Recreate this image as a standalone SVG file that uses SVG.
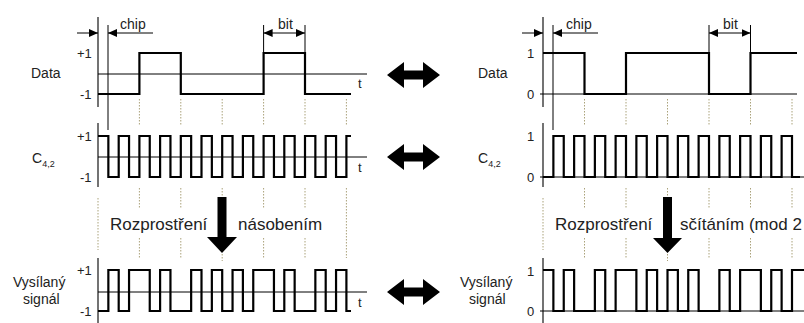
<svg xmlns="http://www.w3.org/2000/svg" width="804" height="323" viewBox="0 0 804 323">
<style>
text{font-family:"Liberation Sans",Arial,sans-serif;fill:#222}
.lab{font-size:14px}
.num{font-size:13px}
.big{font-size:17px}
.sub{font-size:9px}
.wave{fill:none;stroke:#000;stroke-width:2.2;stroke-linejoin:miter}
.thin{fill:none;stroke:#000;stroke-width:1}
.axis{fill:none;stroke:#444;stroke-width:1.5}
.dot{fill:none;stroke:#aaa27a;stroke-width:1;stroke-dasharray:1.5 1.5}
.bold{fill:#000}
</style>
<defs>
<marker id="ah" markerUnits="userSpaceOnUse" markerWidth="9" markerHeight="8" refX="9" refY="4" orient="auto-start-reverse">
<path d="M0,0 L9,4 L0,8 Z" fill="#000"/>
</marker>
</defs>
<rect width="804" height="323" fill="#fff"/>

<g id="grid">
<path class="dot" d="M139.4,99V126M180.8,99V126M222.2,99V126M263.6,99V126M305,99V126M346.4,99V126
M584.5,99V126M626,99V126M667.5,99V126M709,99V126M750.5,99V126M792,99V126
M139.4,188V208M180.8,188V208M222.2,188V197M263.6,188V208M305,188V208M346.4,188V258
M584.5,188V208M626,188V208M667.5,188V197M709,188V208M750.5,188V208M792,188V208
M139.4,238V258M180.8,238V258M222.2,254V261M263.6,238V258M305,238V258
M584.5,238V259M626,238V259M667.5,254V261M709,238V259M750.5,238V259M792,238V259
M98,198V250M543,198V250"/>
</g>

<g id="left-data">
<text class="lab" x="31" y="78">Data</text>
<text class="num" x="77" y="58">+1</text>
<text class="num" x="80" y="99">-1</text>
<text class="num" x="358" y="88">t</text>
<line class="axis" x1="98" y1="17" x2="98" y2="107"/>
<line class="thin" x1="98" y1="74" x2="367" y2="74"/>
<path class="wave" d="M98,94H139.4V53H180.8V94H263.6V53H305V94H351"/>
</g>

<g id="left-chip-marker">
<line class="thin" x1="108" y1="25" x2="108" y2="130"/>
<line class="thin" x1="77" y1="33" x2="98" y2="33" marker-end="url(#ah)"/>
<line class="thin" x1="153" y1="33" x2="108" y2="33" marker-end="url(#ah)"/>
<text class="lab" x="120" y="29">chip</text>
</g>

<g id="left-bit-marker">
<line class="thin" x1="263.6" y1="25" x2="263.6" y2="53"/>
<line class="thin" x1="305" y1="25" x2="305" y2="53"/>
<line class="thin" x1="263.6" y1="33" x2="305" y2="33" marker-start="url(#ah)" marker-end="url(#ah)"/>
<text class="lab" x="278" y="29">bit</text>
</g>

<g id="left-code">
<text class="lab" x="32" y="163">C<tspan class="sub" dy="4">4,2</tspan></text>
<text class="num" x="77" y="141">+1</text>
<text class="num" x="80" y="182">-1</text>
<text class="num" x="358" y="172">t</text>
<line class="axis" x1="98" y1="123" x2="98" y2="187"/>
<line class="thin" x1="98" y1="157" x2="367" y2="157"/>
<path class="wave" d="M98,136H108.35V177H118.7V136H129.05V177H139.4V136H149.75V177H160.1V136H170.45V177H180.8V136H191.15V177H201.5V136H211.85V177H222.2V136H232.55V177H242.9V136H253.25V177H263.6V136H273.95V177H284.3V136H294.65V177H305V136H315.35V177H325.7V136H336.05V177H346.4V136H351"/>
</g>

<g id="left-spread-label">
<text class="big" x="110" y="230">Rozprostření</text>
<text class="big" x="238" y="230">násobením</text>
</g>

<g id="left-signal">
<text class="lab" x="13" y="287">Vysílaný</text>
<text class="lab" x="23" y="304">signál</text>
<text class="num" x="77" y="275">+1</text>
<text class="num" x="80" y="316">-1</text>
<text class="num" x="358" y="307">t</text>
<line class="axis" x1="98" y1="258" x2="98" y2="323"/>
<line class="thin" x1="98" y1="292" x2="367" y2="292"/>
<path class="wave" d="M98,311H108.35V270H118.7V311H129.05V270H149.75V311H160.1V270H170.45V311H191.15V270H201.5V311H211.85V270H222.2V311H232.55V270H242.9V311H253.25V270H273.95V311H284.3V270H294.65V311H315.35V270H325.7V311H336.05V270H346.4V311H351"/>
</g>

<g id="right-data">
<text class="lab" x="478" y="78">Data</text>
<text class="num" x="527" y="58">1</text>
<text class="num" x="527" y="99">0</text>
<line class="axis" x1="543" y1="17" x2="543" y2="107"/>
<line class="thin" x1="540" y1="94" x2="797" y2="94"/>
<path class="wave" d="M543,53H584.5V94H626V53H709V94H750.5V53H797"/>
</g>

<g id="right-chip-marker">
<line class="thin" x1="553" y1="25" x2="553" y2="130"/>
<line class="thin" x1="522" y1="33" x2="543" y2="33" marker-end="url(#ah)"/>
<line class="thin" x1="598" y1="33" x2="553" y2="33" marker-end="url(#ah)"/>
<text class="lab" x="566" y="29">chip</text>
</g>

<g id="right-bit-marker">
<line class="thin" x1="709" y1="25" x2="709" y2="53"/>
<line class="thin" x1="750.5" y1="25" x2="750.5" y2="53"/>
<line class="thin" x1="709" y1="33" x2="750.5" y2="33" marker-start="url(#ah)" marker-end="url(#ah)"/>
<text class="lab" x="723" y="29">bit</text>
</g>

<g id="right-code">
<text class="lab" x="478" y="163">C<tspan class="sub" dy="4">4,2</tspan></text>
<text class="num" x="527" y="141">1</text>
<text class="num" x="527" y="182">0</text>
<line class="axis" x1="543" y1="123" x2="543" y2="187"/>
<line class="thin" x1="540" y1="177" x2="804" y2="177"/>
<path class="wave" d="M543,177H553.375V136H563.75V177H574.125V136H584.5V177H594.875V136H605.25V177H615.625V136H626V177H636.375V136H646.75V177H657.125V136H667.5V177H677.875V136H688.25V177H698.625V136H709V177H719.375V136H729.75V177H740.125V136H750.5V177H760.875V136H771.25V177H781.625V136H792V177H800"/>
</g>

<g id="right-spread-label">
<text class="big" x="555" y="230">Rozprostření</text>
<text class="big" x="680" y="230">sčítáním (mod 2</text>
</g>

<g id="right-signal">
<text class="lab" x="460" y="287">Vysílaný</text>
<text class="lab" x="469" y="304">signál</text>
<text class="num" x="527" y="276">1</text>
<text class="num" x="527" y="316">0</text>
<line class="axis" x1="543" y1="258" x2="543" y2="323"/>
<line class="thin" x1="540" y1="311" x2="804" y2="311"/>
<path class="wave" d="M543,270H553.375V311H563.75V270H574.125V311H594.875V270H605.25V311H615.625V270H636.375V311H646.75V270H657.125V311H667.5V270H677.875V311H688.25V270H698.625V311H719.375V270H729.75V311H740.125V270H760.875V311H771.25V270H781.625V311H792V270H804"/>
</g>

<g id="connectors">
<polygon class="bold" points="387,75 404,62 404,70.5 423,70.5 423,62 440,75 423,88 423,79.5 404,79.5 404,88"/>
<polygon class="bold" points="387,157 404,144 404,152.5 423,152.5 423,144 440,157 423,170 423,161.5 404,161.5 404,170"/>
<polygon class="bold" points="387,292 404,279 404,287.5 423,287.5 423,279 440,292 423,305 423,296.5 404,296.5 404,305"/>
<polygon class="bold" points="217.5,197 226.5,197 226.5,237 237,237 222,253 207,237 217.5,237"/>
<polygon class="bold" points="663,197 672,197 672,238 682,238 667.5,253 653,238 663,238"/>
</g>
</svg>
